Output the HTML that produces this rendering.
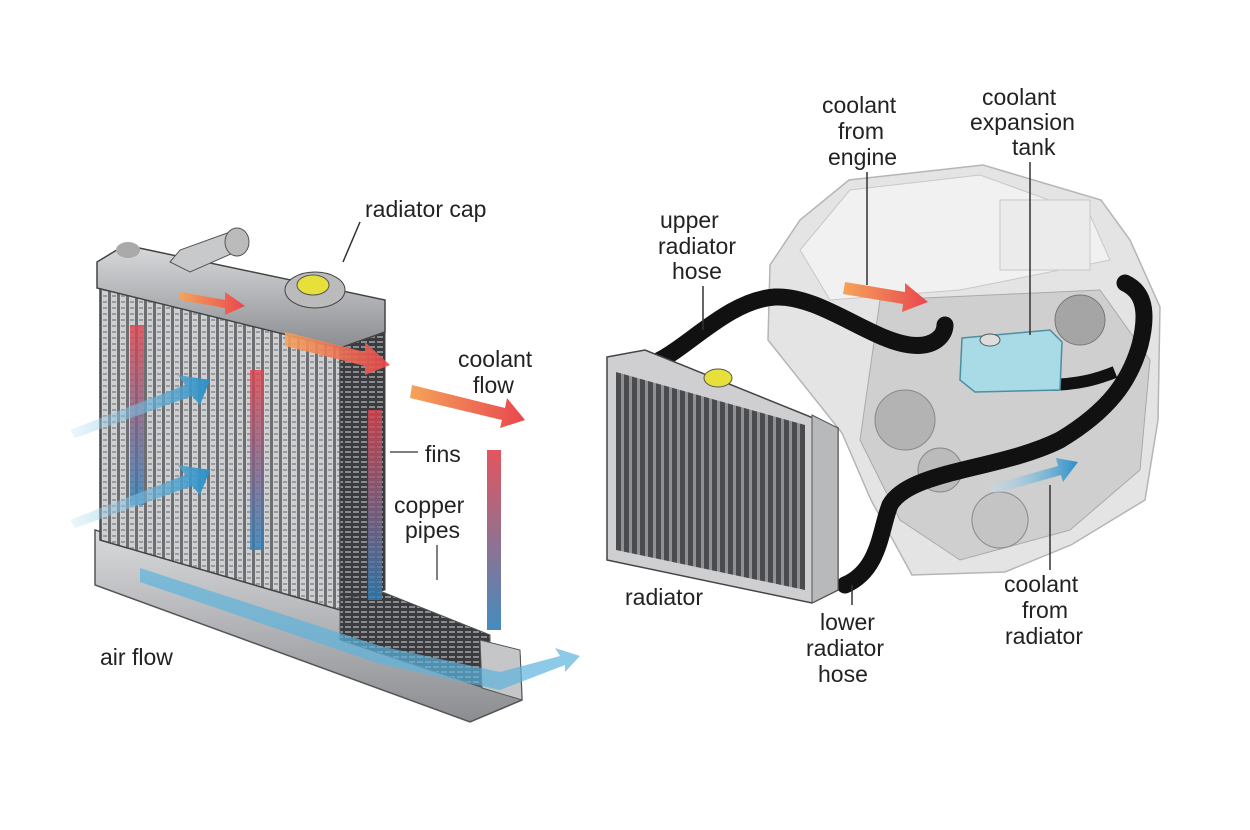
<!DOCTYPE html>
<html><head><meta charset="utf-8"><style>
html,body{margin:0;padding:0;background:#fff}
svg{display:block}
text{font-family:"Liberation Sans",sans-serif;font-size:23px;fill:#222}
</style></head><body>
<svg width="1250" height="830" viewBox="0 0 1250 830" xmlns="http://www.w3.org/2000/svg">
<defs>
<pattern id="fin" width="9" height="6" patternUnits="userSpaceOnUse">
<rect width="9" height="6" fill="#cfd0d2"/><rect x="0" width="3" height="6" fill="#6d6e72"/><rect x="4" y="1" width="4" height="2" fill="#9a9b9f"/>
</pattern>
<pattern id="fin2" width="8" height="5" patternUnits="userSpaceOnUse">
<rect width="8" height="5" fill="#3a3b3f"/><rect x="1" y="1" width="6" height="2" fill="#8a8b8f"/>
</pattern>
<pattern id="fin3" width="8" height="8" patternUnits="userSpaceOnUse">
<rect width="8" height="8" fill="#4a4b4f"/><rect x="5" width="3" height="8" fill="#909195"/>
</pattern>
<linearGradient id="rb" x1="0" y1="0" x2="0" y2="1"><stop offset="0" stop-color="#e0424d"/><stop offset="1" stop-color="#2f7fb8"/></linearGradient>
<linearGradient id="blu" x1="0" y1="0" x2="1" y2="0"><stop offset="0" stop-color="#bfe3f2" stop-opacity=".3"/><stop offset="1" stop-color="#2b8fc6"/></linearGradient>
<linearGradient id="org" x1="0" y1="0" x2="1" y2="0"><stop offset="0" stop-color="#f5a35a"/><stop offset="1" stop-color="#e9474e"/></linearGradient>
<linearGradient id="tank" x1="0" y1="0" x2="0" y2="1"><stop offset="0" stop-color="#d9dadc"/><stop offset="1" stop-color="#8c8d91"/></linearGradient>
</defs>

<!-- LEFT RADIATOR -->
<polygon points="95,530 340,600 520,655 522,700 470,722 95,585" fill="url(#tank)" stroke="#555" stroke-width="1.5"/>
<polygon points="340,575 490,635 490,690 340,640" fill="url(#fin2)" stroke="#555"/>
<polygon points="480,640 520,650 522,700 482,688" fill="#c5c6c8" stroke="#555"/>
<polygon points="100,285 340,345 340,610 100,540" fill="url(#fin)" stroke="#444" stroke-width="1.5"/>
<polygon points="340,345 385,330 385,590 340,600" fill="url(#fin2)" stroke="#444"/>
<polygon points="97,262 125,245 385,300 385,332 340,348 97,288" fill="url(#tank)" stroke="#444" stroke-width="1.5"/>
<polygon points="170,262 180,250 230,232 240,250 190,272" fill="#c8c9cb" stroke="#555"/>
<ellipse cx="237" cy="242" rx="12" ry="14" fill="#bbb" stroke="#555"/>
<ellipse cx="315" cy="290" rx="30" ry="18" fill="#bbb" stroke="#444"/>
<ellipse cx="313" cy="285" rx="16" ry="10" fill="#e7df3a" stroke="#555"/>
<ellipse cx="128" cy="250" rx="12" ry="8" fill="#aaa"/>
<path d="M180,292 L225,300 L225,292 L245,306 L225,315 L225,308 L180,300Z" fill="url(#org)"/>
<path d="M285,332 L365,352 L365,342 L390,365 L365,375 L365,366 L285,346Z" fill="url(#org)" opacity=".9"/>
<path d="M412,385 L505,408 L507,398 L525,420 L500,428 L502,420 L410,398Z" fill="url(#org)"/>
<rect x="130" y="325" width="14" height="180" fill="url(#rb)" opacity=".8"/>
<rect x="250" y="370" width="14" height="180" fill="url(#rb)" opacity=".8"/>
<rect x="368" y="410" width="14" height="190" fill="url(#rb)" opacity=".8"/>
<rect x="487" y="450" width="14" height="180" fill="url(#rb)" opacity=".9"/>
<path d="M70,430 L185,385 L178,375 L210,380 L200,405 L192,396 L75,438Z" fill="url(#blu)"/>
<path d="M70,520 L185,475 L178,465 L210,470 L200,495 L192,486 L75,528Z" fill="url(#blu)"/>
<path d="M140,568 L380,646 L500,672 L560,656 L555,648 L580,656 L565,672 L565,665 L500,690 L380,664 L140,582Z" fill="#5db4dd" opacity=".7"/>
<text x="365" y="217">radiator cap</text>
<line x1="360" y1="222" x2="343" y2="262" stroke="#333" stroke-width="1.5"/>
<text x="458" y="367">coolant</text><text x="473" y="393">flow</text>
<text x="425" y="462">fins</text>
<line x1="390" y1="452" x2="418" y2="452" stroke="#555" stroke-width="1.5"/>
<text x="394" y="513">copper</text><text x="405" y="538">pipes</text>
<line x1="437" y1="545" x2="437" y2="580" stroke="#555" stroke-width="1.5"/>
<text x="100" y="665">air flow</text>

<!-- RIGHT ENGINE -->
<path d="M768,340 L770,265 L800,220 L849,180 L983,165 L1101,200 L1130,240 L1160,307 L1158,420 L1145,500 L1071,545 L1005,572 L912,575 L871,500 L842,433Z" fill="#e4e4e4" stroke="#b5b5b5" stroke-width="1.5"/>
<path d="M800,250 L850,190 L980,175 L1090,215 L1110,260 L960,290 L830,300Z" fill="#f1f1f1" stroke="#c8c8c8"/>
<path d="M880,300 L1100,290 L1150,360 L1140,470 L1070,530 L960,560 L900,520 L860,440Z" fill="#cfcfcf" stroke="#aaa"/>
<circle cx="905" cy="420" r="30" fill="#b3b3b3" stroke="#888"/>
<circle cx="940" cy="470" r="22" fill="#bbb" stroke="#888"/>
<circle cx="1080" cy="320" r="25" fill="#a5a5a5" stroke="#777"/>
<circle cx="1000" cy="520" r="28" fill="#c4c4c4" stroke="#888"/>
<rect x="1000" y="200" width="90" height="70" fill="#ebebeb" stroke="#c8c8c8"/>
<!-- hoses -->
<path d="M660,360 C690,345 730,300 775,297 C820,295 870,340 910,345 C935,348 945,335 945,325" stroke="#111" stroke-width="17" fill="none" stroke-linecap="round"/>
<path d="M1045,385 C1080,385 1100,378 1115,372" stroke="#111" stroke-width="12" fill="none"/>
<path d="M845,585 C880,570 880,530 890,505 C910,470 1000,470 1060,440 C1110,410 1130,380 1140,345 C1150,305 1140,290 1125,283" stroke="#111" stroke-width="17" fill="none" stroke-linecap="round"/>
<!-- radiator -->
<polygon points="607,357 645,350 838,428 838,590 812,603 607,560" fill="#cfcfd1" stroke="#444" stroke-width="1.5"/>
<polygon points="616,372 805,425 805,590 616,550" fill="url(#fin3)"/>
<polygon points="812,415 838,428 838,590 812,603" fill="#b8b9bb" stroke="#555"/>
<ellipse cx="718" cy="378" rx="14" ry="9" fill="#e7df3a" stroke="#555"/>
<polygon points="962,338 1050,330 1062,342 1060,390 975,392 960,380" fill="#a9dbe6" stroke="#4d8ea0" stroke-width="1.5"/>
<ellipse cx="990" cy="340" rx="10" ry="6" fill="#ddd" stroke="#555"/>
<path d="M845,282 L905,292 L905,283 L928,302 L902,312 L903,304 L843,294Z" fill="url(#org)"/>
<path d="M990,485 L1058,466 L1056,458 L1078,462 L1063,482 L1061,475 L994,494Z" fill="url(#blu)"/>
<text x="822" y="113">coolant</text><text x="838" y="139">from</text><text x="828" y="165">engine</text>
<line x1="867" y1="172" x2="867" y2="285" stroke="#333" stroke-width="1.5"/>
<text x="982" y="105">coolant</text><text x="970" y="130">expansion</text><text x="1012" y="155">tank</text>
<line x1="1030" y1="162" x2="1030" y2="335" stroke="#333" stroke-width="1.5"/>
<text x="660" y="228">upper</text><text x="658" y="254">radiator</text><text x="672" y="279">hose</text>
<line x1="703" y1="286" x2="703" y2="330" stroke="#333" stroke-width="1.5"/>
<text x="625" y="605">radiator</text>
<text x="820" y="630">lower</text><text x="806" y="656">radiator</text><text x="818" y="682">hose</text>
<line x1="852" y1="605" x2="852" y2="585" stroke="#333" stroke-width="1.5"/>
<text x="1004" y="592">coolant</text><text x="1022" y="618">from</text><text x="1005" y="644">radiator</text>
<line x1="1050" y1="570" x2="1050" y2="485" stroke="#333" stroke-width="1.5"/>
</svg>
</body></html>
